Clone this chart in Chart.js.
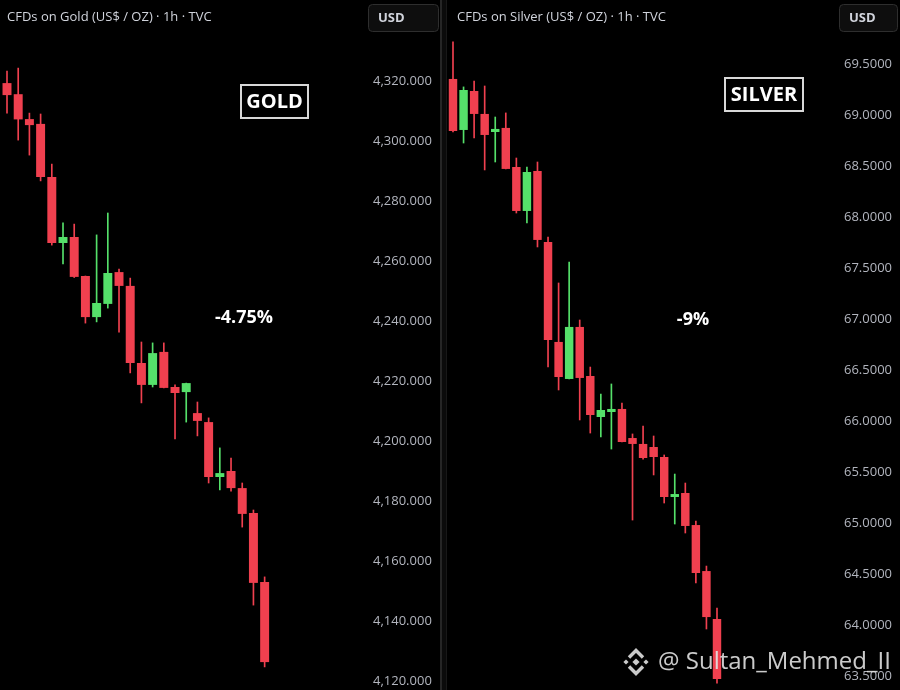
<!DOCTYPE html>
<html>
<head>
<meta charset="utf-8">
<script src="https://cdn.jsdelivr.net/npm/chart.js@4.4.0/dist/chart.umd.min.js"></script>
<style>
	html, body { margin: 0; padding: 0; background: #000; }
	#wrap { position: relative; width: 900px; height: 690px; overflow: hidden; }
	#gold { position: absolute; left: 0; top: 0; width: 440px; height: 690px; }
	#silver { position: absolute; left: 447px; top: 0; width: 453px; height: 690px; }
	#sep { position: absolute; left: 440px; top: 0; width: 7px; height: 690px; background: #0b0b0b;
		box-sizing: border-box; border-left: 2px solid #262626; border-right: 1px solid #181818; }
</style>
</head>
<body>
<div id="wrap">
	<div id="gold"><canvas id="goldChart"></canvas></div>
	<div id="sep"></div>
	<div id="silver"><canvas id="silverChart"></canvas></div>
</div>
<script>
// gold, 1h candles
const goldOpen  = [4319.3, 4315.6, 4307.3, 4305.7, 4288.0, 4266.0, 4268.0, 4255.0, 4241.3, 4245.7, 4256.3, 4251.7,
	4226.0, 4218.7, 4229.7, 4218.0, 4216.3, 4209.3, 4206.3, 4188.0, 4190.0, 4184.3, 4176.0, 4153.0];
const goldHigh  = [4323.3, 4324.3, 4309.3, 4309.0, 4292.3, 4272.7, 4272.3, 4255.0, 4268.7, 4276.0, 4257.3, 4254.3,
	4233.0, 4232.7, 4232.7, 4218.7, 4219.3, 4213.0, 4207.7, 4197.7, 4194.3, 4186.0, 4177.0, 4154.7];
const goldLow   = [4309.3, 4300.3, 4295.3, 4286.7, 4265.3, 4259.0, 4254.5, 4239.3, 4239.7, 4244.3, 4236.3, 4222.7,
	4212.7, 4218.0, 4217.7, 4200.7, 4206.3, 4201.7, 4186.0, 4183.7, 4183.3, 4171.3, 4145.3, 4124.7];
const goldClose = [4315.3, 4307.2, 4305.3, 4288.0, 4266.0, 4268.0, 4254.7, 4241.3, 4246.0, 4256.0, 4251.7, 4226.0,
	4218.7, 4229.3, 4217.7, 4216.0, 4219.3, 4206.7, 4188.0, 4189.3, 4184.3, 4175.7, 4152.7, 4126.3];
const goldTicks = [4120, 4140, 4160, 4180, 4200, 4220, 4240, 4260, 4280, 4300, 4320];

// silver, 1h candles
const silverOpen  = [69.353, 68.853, 69.235, 69.010, 68.833, 68.873, 68.490, 68.059, 68.451, 67.755, 66.775, 66.412, 66.922,
	66.441, 66.039, 66.088, 66.118, 65.833, 65.775, 65.745, 65.647, 65.255, 65.294, 64.980, 64.529, 64.059];
const silverHigh  = [69.716, 69.275, 69.333, 69.284, 68.980, 69.020, 68.578, 68.490, 68.539, 67.804, 67.353, 67.559, 66.990,
	66.529, 66.265, 66.363, 66.176, 65.873, 65.951, 65.853, 65.667, 65.480, 65.392, 65.020, 64.578, 64.167];
const silverLow   = [68.833, 68.725, 68.775, 68.461, 68.539, 68.471, 68.039, 67.941, 67.706, 66.529, 66.304, 66.412, 66.010,
	65.882, 65.843, 65.725, 65.794, 65.029, 65.627, 65.471, 65.196, 64.990, 64.902, 64.412, 63.961, 63.431];
const silverClose = [68.843, 69.245, 69.010, 68.804, 68.863, 68.471, 68.059, 68.441, 67.775, 66.794, 66.431, 66.922, 66.422,
	66.059, 66.108, 66.118, 65.794, 65.775, 65.637, 65.647, 65.255, 65.284, 64.971, 64.510, 64.078, 63.471];
const silverTicks = [63.5, 64.0, 64.5, 65.0, 65.5, 66.0, 66.5, 67.0, 67.5, 68.0, 68.5, 69.0, 69.5];

const RED = "#f0404f", GREEN = "#55e06a";
const TEXT = "#d1d4dc";

Chart.defaults.font.family = "'Open Sans', sans-serif";
Chart.defaults.animation = false;

function candleSets(open, high, low, close) {
	var wicks = [], bodies = [], colors = [];
	for (var i = 0; i < open.length; i++) {
		wicks.push({x: i, y: [low[i], high[i]]});
		bodies.push({x: i, y: [open[i], close[i]]});
		colors.push(close[i] >= open[i] ? GREEN : RED);
	}
	return [
		{data: wicks, backgroundColor: colors, barThickness: 1, grouped: false, order: 2},
		{data: bodies, backgroundColor: colors, barPercentage: 0.8, categoryPercentage: 1, grouped: false, order: 1}
	];
}

function roundRect(c, x, y, w, h, r) {
	c.beginPath();
	c.moveTo(x + r, y);
	c.arcTo(x + w, y, x + w, y + h, r);
	c.arcTo(x + w, y + h, x, y + h, r);
	c.arcTo(x, y + h, x, y, r);
	c.arcTo(x, y, x + w, y, r);
	c.closePath();
}

function binanceLogo(c, cx, cy) {
	c.save();
	c.translate(cx, cy);
	c.fillStyle = "rgba(225,225,225,0.9)";
	c.strokeStyle = "rgba(225,225,225,0.9)";
	var dia = function (x, y, r) {
		c.beginPath();
		c.moveTo(x, y - r); c.lineTo(x + r, y); c.lineTo(x, y + r); c.lineTo(x - r, y);
		c.closePath(); c.fill();
	};
	dia(0, 0, 3.6);
	dia(-10, 0, 2.6);
	dia(10, 0, 2.6);
	c.lineWidth = 3.4;
	c.lineJoin = "miter";
	c.beginPath();
	c.moveTo(-7, -4.5); c.lineTo(0, -11.5); c.lineTo(7, -4.5);
	c.moveTo(-7, 4.5); c.lineTo(0, 11.5); c.lineTo(7, 4.5);
	c.stroke();
	c.restore();
}

function overlay(cfg) {
	return {
		id: "overlay",
		afterDraw: function (chart) {
			var c = chart.ctx;
			c.save();
			c.textBaseline = "middle";
			c.textAlign = "left";
			// header
			c.font = "13px 'Open Sans'";
			c.fillStyle = TEXT;
			c.fillText(cfg.title, cfg.titleX, 17);
			roundRect(c, cfg.usd[0] + 0.5, 4.5, cfg.usd[1] - cfg.usd[0], 27, 4);
			c.fillStyle = "#0e0e0e";
			c.fill();
			c.strokeStyle = "#2e2e2e";
			c.lineWidth = 1;
			c.stroke();
			c.font = "bold 13px 'Open Sans'";
			c.fillStyle = TEXT;
			c.fillText("USD", cfg.usd[0] + 10, 18);
			// name box
			var b = cfg.box;
			c.strokeStyle = "#d8d8d8";
			c.lineWidth = 2;
			c.strokeRect(b[0], b[1], b[2] - b[0], b[3] - b[1]);
			c.font = "bold 20px 'Open Sans'";
			c.fillStyle = "#ffffff";
			c.textAlign = "center";
			c.fillText(cfg.name, (b[0] + b[2]) / 2, (b[1] + b[3]) / 2 + 1);
			// change label
			c.font = "bold 18px 'Open Sans'";
			c.fillText(cfg.pct, cfg.pctPos[0], cfg.pctPos[1]);
			// watermark
			if (cfg.mark) {
				binanceLogo(c, cfg.mark.logo[0], cfg.mark.logo[1]);
				c.textAlign = "left";
				c.font = "24px 'Open Sans'";
				c.fillStyle = "rgba(225,225,225,0.9)";
				c.fillText(cfg.mark.text, cfg.mark.x, cfg.mark.y);
			}
			c.restore();
		}
	};
}

function makeChart(id, sets, opts) {
	return new Chart(document.getElementById(id).getContext("2d"), {
		type: "bar",
		data: {datasets: sets},
		options: {
			responsive: true,
			maintainAspectRatio: false,
			layout: {padding: 0},
			events: [],
			plugins: {legend: {display: false}, tooltip: {enabled: false}},
			scales: {
				x: {
					type: "linear",
					display: false,
					min: opts.xmin,
					max: opts.xmax,
					offset: false
				},
				y: {
					position: "right",
					min: opts.ymin,
					max: opts.ymax,
					grid: {display: false, drawTicks: false},
					border: {display: false},
					afterBuildTicks: function (axis) {
						axis.ticks = opts.ticks.map(function (v) { return {value: v}; });
					},
					afterFit: function (axis) {
						axis.width = opts.axisWidth;
						// let the plot run edge to edge, like the price pane
						axis.paddingTop = 0;
						axis.paddingBottom = 0;
					},
					ticks: {
						color: "#b2b5be",
						font: {size: 13},
						padding: 8,
						callback: opts.fmt
					}
				}
			}
		},
		plugins: [overlay(opts.overlay)]
	});
}

let gChart = makeChart("goldChart", candleSets(goldOpen, goldHigh, goldLow, goldClose), {
	xmin: -0.625, xmax: 31.96,
	ymin: 4117, ymax: 4347,
	ticks: goldTicks,
	axisWidth: 75,
	fmt: function (v) {
		return v.toLocaleString("en-US", {minimumFractionDigits: 3, maximumFractionDigits: 3});
	},
	overlay: {
		title: "CFDs on Gold (US$ / OZ) \u00b7 1h \u00b7 TVC", titleX: 7,
		usd: [368, 438],
		name: "GOLD", box: [241, 85, 308, 118],
		pct: "-4.75%", pctPos: [244, 318]
	}
});

let sChart = makeChart("silverChart", candleSets(silverOpen, silverHigh, silverLow, silverClose), {
	xmin: -0.568, xmax: 36.27,
	ymin: 63.363, ymax: 70.127,
	ticks: silverTicks,
	axisWidth: 64,
	fmt: function (v) { return v.toFixed(4); },
	overlay: {
		title: "CFDs on Silver (US$ / OZ) \u00b7 1h \u00b7 TVC", titleX: 10,
		usd: [392, 450],
		name: "SILVER", box: [278, 78, 356, 111],
		pct: "-9%", pctPos: [246, 320],
		mark: {logo: [189, 662], text: "@ Sultan_Mehmed_II", x: 211, y: 662}
	}
});
</script>
</body>
</html>
